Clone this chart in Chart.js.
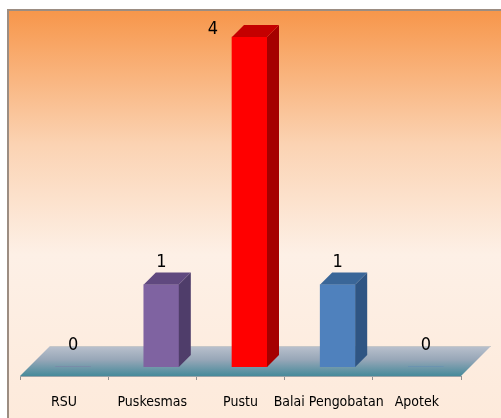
<!DOCTYPE html>
<html>
<head>
<meta charset="utf-8">
<script src="https://cdn.jsdelivr.net/npm/chart.js@4/dist/chart.umd.min.js"></script>
<style>
  html, body { margin: 0; padding: 0; background: #fff; }
  #wrap { width: 501px; height: 418px; position: relative; }
</style>
</head>
<body>
<div id="wrap"><canvas id="chart"></canvas></div>
<script>
const categories = ['RSU', 'Puskesmas', 'Pustu', 'Balai Pengobatan', 'Apotek'];
const counts = [0, 1, 4, 1, 0];
const frontColors = ['#7f63a1', '#7f63a1', '#ff0000', '#4f81bd', '#4f81bd'];
const sideColors = ['#4f3d6a', '#4f3d6a', '#a50000', '#2f5583', '#2f5583'];
const topColors = ['#60497f', '#60497f', '#c40000', '#3a6698', '#3a6698'];

const FONT = "'Liberation Sans Narrow', 'DejaVu Sans Condensed', sans-serif";
const DEPTH = 12;              // bar depth offset
const SHIFT = 9;               // bars sit a bit back on the floor
const FLOOR = 30;              // floor depth

const scene = {
  id: 'scene',
  beforeDraw(chart) {
    const { ctx, width, height } = chart;
    const g = ctx.createLinearGradient(0, 10, 0, height);
    g.addColorStop(0, '#f7964a');
    g.addColorStop(0.33, '#fbd3b3');
    g.addColorStop(0.6, '#fdf0e6');
    g.addColorStop(1, '#fdeadb');
    ctx.save();
    ctx.fillStyle = g;
    ctx.fillRect(8, 10, width - 8, height - 10);
    ctx.strokeStyle = '#9c8d82';
    ctx.lineWidth = 2;
    ctx.beginPath();
    ctx.moveTo(8, height);
    ctx.lineTo(8, 10);
    ctx.lineTo(width, 10);
    ctx.stroke();
    ctx.restore();
  },
  beforeDatasetsDraw(chart) {
    const { ctx, chartArea: a } = chart;
    // floor
    const g = ctx.createLinearGradient(0, a.bottom - FLOOR, 0, a.bottom);
    g.addColorStop(0, '#bac1cd');
    g.addColorStop(0.45, '#98a7b8');
    g.addColorStop(1, '#468a9a');
    ctx.save();
    ctx.fillStyle = g;
    ctx.beginPath();
    ctx.moveTo(a.left, a.bottom);
    ctx.lineTo(a.right, a.bottom);
    ctx.lineTo(a.right + FLOOR, a.bottom - FLOOR);
    ctx.lineTo(a.left + FLOOR, a.bottom - FLOOR);
    ctx.closePath();
    ctx.fill();
    ctx.strokeStyle = 'rgba(200,200,200,0.9)';
    ctx.lineWidth = 1;
    ctx.beginPath();
    ctx.moveTo(a.left + FLOOR, a.bottom - FLOOR + 0.5);
    ctx.lineTo(a.right + FLOOR, a.bottom - FLOOR + 0.5);
    ctx.stroke();
    ctx.strokeStyle = '#9aa3a8';
    ctx.beginPath();
    ctx.moveTo(a.left, a.bottom + 0.5);
    ctx.lineTo(a.right, a.bottom + 0.5);
    ctx.stroke();
    ctx.restore();
    ctx.save();
    ctx.translate(SHIFT, -SHIFT);
  },
  afterDatasetsDraw(chart) {
    const { ctx, chartArea: a } = chart;
    const bars = chart.getDatasetMeta(0).data;
    bars.forEach((bar, i) => {
      if (!counts[i]) return;
      const l = bar.x - bar.width / 2, r = bar.x + bar.width / 2;
      ctx.fillStyle = sideColors[i];
      ctx.beginPath();
      ctx.moveTo(r, bar.y);
      ctx.lineTo(r + DEPTH, bar.y - DEPTH);
      ctx.lineTo(r + DEPTH, bar.base - DEPTH);
      ctx.lineTo(r, bar.base);
      ctx.closePath();
      ctx.fill();
      ctx.fillStyle = topColors[i];
      ctx.beginPath();
      ctx.moveTo(l, bar.y);
      ctx.lineTo(r, bar.y);
      ctx.lineTo(r + DEPTH, bar.y - DEPTH);
      ctx.lineTo(l + DEPTH, bar.y - DEPTH);
      ctx.closePath();
      ctx.fill();
    });
    ctx.restore();

    // value labels
    ctx.save();
    ctx.font = 'condensed 18px ' + FONT;
    ctx.fillStyle = '#000';
    ctx.textAlign = 'center';
    ctx.textBaseline = 'middle';
    bars.forEach((bar, i) => {
      let x = bar.x + SHIFT;
      let y = bar.y - SHIFT - DEPTH - 10;
      if (y < a.top + 20) {
        x = bar.x - bar.width / 2 + SHIFT - 19;
        y = bar.y - SHIFT - 8;
      }
      ctx.fillText(String(counts[i]), x, y);
    });
    ctx.restore();
  }
};

new Chart(document.getElementById('chart'), {
  type: 'bar',
  data: {
    labels: categories,
    datasets: [{
      data: counts,
      backgroundColor: frontColors,
      borderWidth: 0,
      barThickness: 35
    }]
  },
  options: {
    responsive: true,
    maintainAspectRatio: false,
    animation: false,
    events: [],
    layout: { padding: { left: 20, right: 40, top: 13, bottom: 0 } },
    plugins: { legend: { display: false }, tooltip: { enabled: false } },
    scales: {
      x: {
        offset: true,
        afterFit: s => { s.height = 42; },
        border: { display: false },
        grid: { offset: true, drawOnChartArea: false, tickLength: 4, color: '#8f8f8f' },
        ticks: {
          color: '#000', padding: 14, autoSkip: false, maxRotation: 0, minRotation: 0,
          font: { family: FONT, size: 14, style: 'condensed' }
        }
      },
      y: { display: false, min: 0, max: 4.4 }
    }
  },
  plugins: [scene]
});
</script>
</body>
</html>
